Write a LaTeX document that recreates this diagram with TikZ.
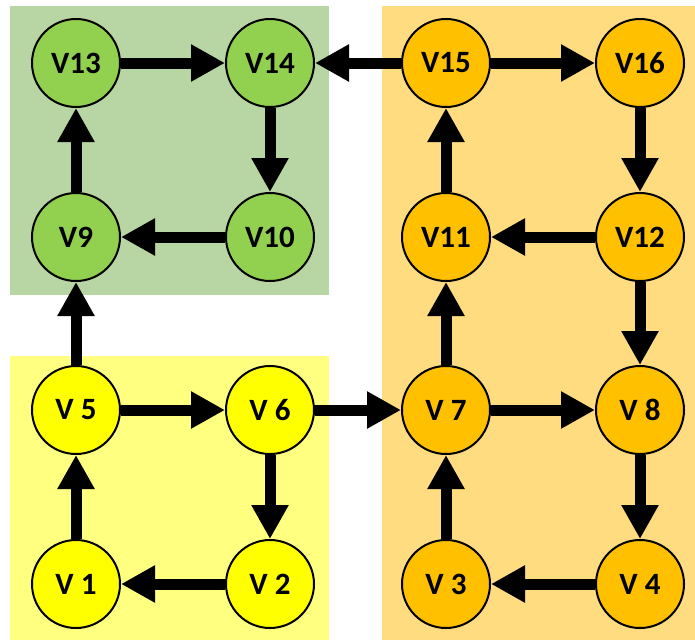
\documentclass[tikz,border=0pt]{standalone}
\usepackage{fontspec}
\setmainfont{Carlito}
\usetikzlibrary{arrows.meta}
\definecolor{greenbg}{HTML}{B8D6A3}
\definecolor{greennode}{HTML}{92D050}
\definecolor{orangebg}{HTML}{FFDC80}
\definecolor{orangenode}{HTML}{FFC000}
\definecolor{yellowbg}{HTML}{FFFF80}
\definecolor{yellownode}{HTML}{FFFF00}
\tikzset{
  vertex/.style={circle, draw=black, line width=2pt, minimum size=88pt, inner sep=0pt,
    font=\fontsize{31}{34}\selectfont\bfseries},
  gv/.style={vertex, fill=greennode},
  ov/.style={vertex, fill=orangenode},
  yv/.style={vertex, fill=yellownode},
  edge/.style={line width=11pt, -{Triangle[length=34pt,width=35pt]}},
}
\begin{document}
\begin{tikzpicture}[x=1pt,y=-1pt]
\useasboundingbox (0,0) rectangle (695,640);
% group backgrounds
\fill[greenbg] (10,6) rectangle (329,295);
\fill[orangebg] (382,6) rectangle (695,640);
\fill[yellowbg] (10,356) rectangle (329,640);
% vertices
\node[gv] (v13) at (76,63) {V13};
\node[gv] (v14) at (270,63) {V14};
\node[gv] (v9)  at (76,237) {V9};
\node[gv] (v10) at (270,237) {V10};
\node[ov] (v15) at (446,63) {V15};
\node[ov] (v16) at (640,63) {V16};
\node[ov] (v11) at (446,237) {V11};
\node[ov] (v12) at (640,237) {V12};
\node[yv] (v5) at (76,410) {V 5};
\node[yv] (v6) at (270,410) {V 6};
\node[yv] (v1) at (76,584) {V 1};
\node[yv] (v2) at (270,584) {V 2};
\node[ov] (v7) at (446,410) {V 7};
\node[ov] (v8) at (640,410) {V 8};
\node[ov] (v3) at (446,584) {V 3};
\node[ov] (v4) at (640,584) {V 4};
% connectors
\draw[edge] (v13) -- (v14);
\draw[edge] (v14) -- (v10);
\draw[edge] (v10) -- (v9);
\draw[edge] (v9) -- (v13);
\draw[edge] (v5) -- (v9);
\draw[edge] (v15) -- (v14);
\draw[edge] (v15) -- (v16);
\draw[edge] (v16) -- (v12);
\draw[edge] (v12) -- (v11);
\draw[edge] (v11) -- (v15);
\draw[edge] (v12) -- (v8);
\draw[edge] (v7) -- (v11);
\draw[edge] (v5) -- (v6);
\draw[edge] (v6) -- (v7);
\draw[edge] (v6) -- (v2);
\draw[edge] (v2) -- (v1);
\draw[edge] (v1) -- (v5);
\draw[edge] (v7) -- (v8);
\draw[edge] (v8) -- (v4);
\draw[edge] (v4) -- (v3);
\draw[edge] (v3) -- (v7);
\end{tikzpicture}
\end{document}
